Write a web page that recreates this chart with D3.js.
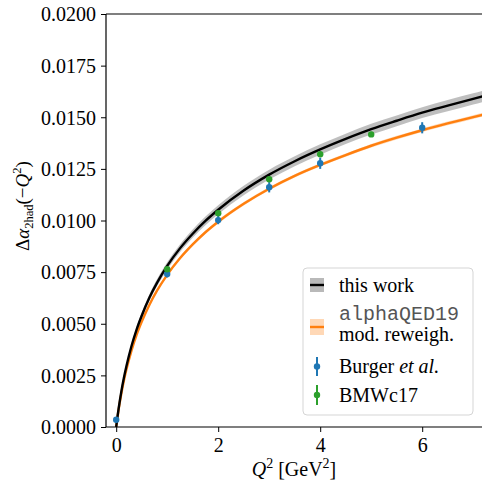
<!DOCTYPE html>
<html>
<head>
<meta charset="utf-8">
<script src="https://cdn.jsdelivr.net/npm/d3@7"></script>
<style>
  body { margin: 0; background: #fff; }
</style>
</head>
<body>
<div id="chart"></div>
<script>
// curves sampled at Q^2 (GeV^2)
var q2 = [0, 0.02, 0.05, 0.1, 0.15, 0.2, 0.3, 0.4, 0.5, 0.65, 0.8, 1, 1.25, 1.5, 1.75, 2, 2.5, 3, 3.5, 4, 4.5, 5, 5.5, 6, 6.5, 7, 7.25];
var thisWork = [0, 0.0004, 0.00093, 0.00171, 0.00237, 0.00294, 0.00392, 0.00472, 0.00539, 0.00626, 0.00698, 0.0078, 0.00865, 0.00936, 0.00998, 0.01052, 0.01145, 0.01222, 0.01287, 0.01344, 0.01395, 0.01442, 0.01483, 0.01522, 0.01556, 0.01589, 0.01605];
var thisWorkErr = [0, 0.00002, 0.00004, 0.00007, 0.00009, 0.0001, 0.00012, 0.00014, 0.00015, 0.00016, 0.00017, 0.00018, 0.00019, 0.0002, 0.00021, 0.00022, 0.00023, 0.00024, 0.00024, 0.00025, 0.00025, 0.00026, 0.00026, 0.00026, 0.00027, 0.00027, 0.00027];
var aqed = [0, 0.00037, 0.00088, 0.00161, 0.00224, 0.00278, 0.0037, 0.00446, 0.00509, 0.00591, 0.0066, 0.00737, 0.00817, 0.00884, 0.00943, 0.00994, 0.01081, 0.01154, 0.01216, 0.01269, 0.01317, 0.01362, 0.01401, 0.01437, 0.0147, 0.01501, 0.01516];
var aqedErr = [0, 0.00001, 0.00002, 0.00003, 0.00004, 0.00004, 0.00005, 0.00005, 0.00006, 0.00006, 0.00006, 0.00007, 0.00007, 0.00007, 0.00007, 0.00008, 0.00008, 0.00008, 0.00008, 0.00008, 0.00008, 0.00009, 0.00009, 0.00009, 0.00009, 0.00009, 0.00009];

// lattice points
var burgerQ2 = [0, 1, 2, 3, 4, 6];
var burgerVal = [0.00035, 0.00741, 0.01002, 0.01161, 0.01277, 0.01449];
var burgerErr = [0.00002, 0.00017, 0.0002, 0.00025, 0.00027, 0.00027];
var bmwQ2 = [1, 2, 3, 4, 5];
var bmwVal = [0.00764, 0.01035, 0.0120, 0.01321, 0.01417];
var bmwErr = [0.00006, 0.00008, 0.0001, 0.00011, 0.00012];

var xTicks = [0, 2, 4, 6];
var yTicks = [0, 0.0025, 0.005, 0.0075, 0.01, 0.0125, 0.015, 0.0175, 0.02];

(function () {
var W = 482, H = 484;
var mLeft = 106, mTop = 14, mRight = 483.4, mBottom = 427;
var serif = "'Liberation Serif', 'DejaVu Serif', serif";

var svg = d3.select("#chart").append("svg")
    .attr("width", W).attr("height", H)
    .style("font-family", serif);

var x = d3.scaleLinear().domain([-0.2, 7.2]).range([mLeft, mRight]);
var y = d3.scaleLinear().domain([0, 0.02]).range([mBottom, mTop]);

svg.append("clipPath").attr("id", "clip")
  .append("rect").attr("x", mLeft).attr("y", mTop)
  .attr("width", mRight - mLeft).attr("height", mBottom - mTop);

var plot = svg.append("g").attr("clip-path", "url(#clip)");

var curves = q2.map(function (q, i) {
  return { q: q, tw: thisWork[i], twe: thisWorkErr[i], aq: aqed[i], aqe: aqedErr[i] };
});

// bands
plot.append("path").datum(curves)
  .attr("fill", "#ff7f0e").attr("fill-opacity", 0.3)
  .attr("d", d3.area().curve(d3.curveMonotoneX)
    .x(function (d) { return x(d.q); })
    .y0(function (d) { return y(d.aq - d.aqe); })
    .y1(function (d) { return y(d.aq + d.aqe); }));
plot.append("path").datum(curves)
  .attr("fill", "#808080").attr("fill-opacity", 0.5)
  .attr("d", d3.area().curve(d3.curveMonotoneX)
    .x(function (d) { return x(d.q); })
    .y0(function (d) { return y(d.tw - d.twe); })
    .y1(function (d) { return y(d.tw + d.twe); }));

// central lines
plot.append("path").datum(curves)
  .attr("fill", "none").attr("stroke", "#ff7f0e").attr("stroke-width", 2.4)
  .attr("d", d3.line().curve(d3.curveMonotoneX)
    .x(function (d) { return x(d.q); })
    .y(function (d) { return y(d.aq); }));
plot.append("path").datum(curves)
  .attr("fill", "none").attr("stroke", "#000").attr("stroke-width", 2.4)
  .attr("d", d3.line().curve(d3.curveMonotoneX)
    .x(function (d) { return x(d.q); })
    .y(function (d) { return y(d.tw); }));

// points with error bars
function drawPoints(qs, vals, errs, color) {
  var pts = qs.map(function (q, i) { return { q: q, v: vals[i], e: errs[i] }; });
  var g = plot.append("g");
  g.selectAll("line").data(pts).enter().append("line")
    .attr("x1", function (d) { return x(d.q); })
    .attr("x2", function (d) { return x(d.q); })
    .attr("y1", function (d) { return y(d.v - d.e); })
    .attr("y2", function (d) { return y(d.v + d.e); })
    .attr("stroke", color).attr("stroke-width", 2);
  g.selectAll("circle").data(pts).enter().append("circle")
    .attr("cx", function (d) { return x(d.q); })
    .attr("cy", function (d) { return y(d.v); })
    .attr("r", 3.2).attr("fill", color);
}
drawPoints(burgerQ2, burgerVal, burgerErr, "#1f77b4");
drawPoints(bmwQ2, bmwVal, bmwErr, "#2ca02c");

// axes
var xAxis = svg.append("g")
  .attr("transform", "translate(0," + mBottom + ")")
  .call(d3.axisBottom(x).tickValues(xTicks).tickSize(5).tickPadding(5)
    .tickFormat(d3.format("d")));
var yAxis = svg.append("g")
  .attr("transform", "translate(" + mLeft + ",0)")
  .call(d3.axisLeft(y).tickValues(yTicks).tickSize(5).tickPadding(5)
    .tickFormat(d3.format(".4f")));
[xAxis, yAxis].forEach(function (a) {
  a.attr("font-family", null).attr("font-size", null);
  a.select(".domain").remove();
  a.selectAll("line").attr("stroke", "#000").attr("stroke-width", 1);
  a.selectAll("text").style("font-family", serif).style("font-size", "20px").attr("fill", "#000");
});
yAxis.selectAll("text").attr("dy", "0.34em");
xAxis.selectAll("text").attr("dy", "0.75em");

// spines
svg.append("line").attr("x1", mLeft).attr("x2", mRight).attr("y1", mBottom).attr("y2", mBottom)
  .attr("stroke", "#000").attr("stroke-width", 1.2);
svg.append("line").attr("x1", mLeft).attr("x2", mRight).attr("y1", mTop).attr("y2", mTop)
  .attr("stroke", "#000").attr("stroke-width", 1.2);
svg.append("line").attr("x1", mLeft).attr("x2", mLeft).attr("y1", mTop).attr("y2", mBottom)
  .attr("stroke", "#000").attr("stroke-width", 1.2);

// axis labels
var xl = svg.append("text").attr("x", 294).attr("y", 476)
  .attr("text-anchor", "middle").style("font-size", "20px");
xl.append("tspan").attr("font-style", "italic").text("Q");
xl.append("tspan").style("font-size", "14px").attr("dy", -8).text("2");
xl.append("tspan").attr("dy", 8).text(" [GeV");
xl.append("tspan").style("font-size", "14px").attr("dy", -8).text("2");
xl.append("tspan").attr("dy", 8).text("]");

var yl = svg.append("text").attr("transform", "translate(29,251) rotate(-90)")
  .style("font-size", "19px");
yl.append("tspan").text("Δ");
yl.append("tspan").attr("font-style", "italic").text("α");
yl.append("tspan").style("font-size", "12.5px").attr("dy", 4).text("2had");
yl.append("tspan").attr("dy", -4).text("(−");
yl.append("tspan").attr("font-style", "italic").text("Q");
yl.append("tspan").style("font-size", "12.5px").attr("dy", -8).text("2");
yl.append("tspan").attr("dy", 8).text(")");

// legend
var lg = svg.append("g").style("font-size", "20px");
lg.append("rect").attr("x", 303).attr("y", 268).attr("width", 170).attr("height", 147)
  .attr("rx", 4).attr("fill", "#fff").attr("fill-opacity", 0.8)
  .attr("stroke", "#d5d5d5").attr("stroke-width", 1);
var hx0 = 310, hx1 = 324, tx = 339;
// this work
lg.append("rect").attr("x", hx0).attr("y", 278).attr("width", hx1 - hx0).attr("height", 14)
  .attr("fill", "#808080").attr("fill-opacity", 0.55);
lg.append("line").attr("x1", hx0).attr("x2", hx1).attr("y1", 285).attr("y2", 285)
  .attr("stroke", "#000").attr("stroke-width", 2.4);
lg.append("text").attr("x", tx).attr("y", 292).text("this work");
// alphaQED19
lg.append("rect").attr("x", hx0).attr("y", 319).attr("width", hx1 - hx0).attr("height", 16)
  .attr("fill", "#ff7f0e").attr("fill-opacity", 0.3);
lg.append("line").attr("x1", hx0).attr("x2", hx1).attr("y1", 327).attr("y2", 327)
  .attr("stroke", "#ff7f0e").attr("stroke-width", 2.4);
lg.append("text").attr("x", tx).attr("y", 320)
  .style("font-family", "'Liberation Mono', 'DejaVu Sans Mono', monospace")
  .attr("fill", "#555").text("alphaQED19");
lg.append("text").attr("x", tx).attr("y", 341).text("mod. reweigh.");
// Burger et al.
lg.append("line").attr("x1", 317).attr("x2", 317).attr("y1", 357).attr("y2", 376)
  .attr("stroke", "#1f77b4").attr("stroke-width", 2);
lg.append("circle").attr("cx", 317).attr("cy", 366.5).attr("r", 3.2).attr("fill", "#1f77b4");
var bt = lg.append("text").attr("x", tx).attr("y", 373);
bt.append("tspan").text("Burger ");
bt.append("tspan").attr("font-style", "italic").text("et al.");
// BMWc17
lg.append("line").attr("x1", 317).attr("x2", 317).attr("y1", 385).attr("y2", 405)
  .attr("stroke", "#2ca02c").attr("stroke-width", 2);
lg.append("circle").attr("cx", 317).attr("cy", 395).attr("r", 3.2).attr("fill", "#2ca02c");
lg.append("text").attr("x", tx).attr("y", 402).text("BMWc17");
})();
</script>
</body>
</html>
